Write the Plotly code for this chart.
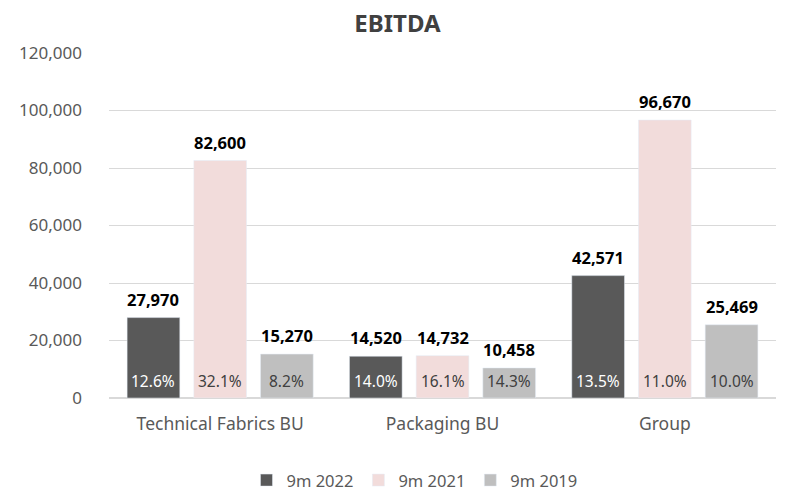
import plotly.graph_objects as go

categories = ["Technical Fabrics BU", "Packaging BU", "Group"]
series_names = ["9m 2022", "9m 2021", "9m 2019"]
values = {
    "9m 2022": [27970, 14520, 42571],
    "9m 2021": [82600, 14732, 96670],
    "9m 2019": [15270, 10458, 25469],
}
margins = {
    "9m 2022": ["12.6%", "14.0%", "13.5%"],
    "9m 2021": ["32.1%", "16.1%", "11.0%"],
    "9m 2019": ["8.2%", "14.3%", "10.0%"],
}
colors = {"9m 2022": "#595959", "9m 2021": "#F2DCDB", "9m 2019": "#BFBFBF"}
pct_colors = {"9m 2022": "#FFFFFF", "9m 2021": "#404040", "9m 2019": "#404040"}

FONT = "Noto Sans"
bargap = 0.10
xs = list(range(len(categories)))

fig = go.Figure()
for s in series_names:
    fig.add_trace(go.Bar(
        name=s, x=xs, y=values[s], marker_color=colors[s],
        hoverinfo="skip",
    ))

ann = []
slot = (1 - bargap) / len(series_names)
for j, s in enumerate(series_names):
    off = (j - (len(series_names) - 1) / 2) * slot
    for i, v in enumerate(values[s]):
        ann.append(dict(x=i + off, y=v, xref="x", yref="y", text=f"<b>{v:,}</b>",
                        showarrow=False, yanchor="bottom", yshift=5,
                        font=dict(family=FONT, size=16.5, color="#000000")))
        ann.append(dict(x=i + off, y=0, xref="x", yref="y", text=margins[s][i],
                        showarrow=False, yanchor="bottom", yshift=4,
                        font=dict(family=FONT, size=15.5, color=pct_colors[s])))

fig.update_layout(
    width=779, height=484,
    barmode="group", bargap=bargap, bargroupgap=0.21,
    plot_bgcolor="white", paper_bgcolor="white",
    margin=dict(l=96, r=11, t=45, b=94),
    title=dict(text="<b>EBITDA</b>", x=0.5, xanchor="center", yref="container",
               y=0.986, yanchor="top",
               font=dict(family=FONT, size=24, color="#404040")),
    font=dict(family=FONT, color="#595959"),
    legend=dict(orientation="h", x=0.458, xanchor="center", yref="container", y=0.024,
                yanchor="middle",
                font=dict(family=FONT, size=16.5, color="#595959"), itemwidth=30,
                traceorder="normal"),
    annotations=ann,
)
fig.update_yaxes(range=[0, 120000], dtick=20000, tickformat=",", showgrid=True,
                 gridcolor="#D9D9D9", gridwidth=1, zeroline=True, zerolinecolor="#D9D9D9",
                 tickfont=dict(family=FONT, size=17, color="#595959"), ticks="", ticklabelstandoff=26)
fig.update_xaxes(tickvals=xs, ticktext=categories, range=[-0.5, 2.5], showline=True,
                 linecolor="#D9D9D9", ticklabelstandoff=10,
                 tickfont=dict(family=FONT, size=17.5, color="#595959"))

fig.write_html("out.html")
